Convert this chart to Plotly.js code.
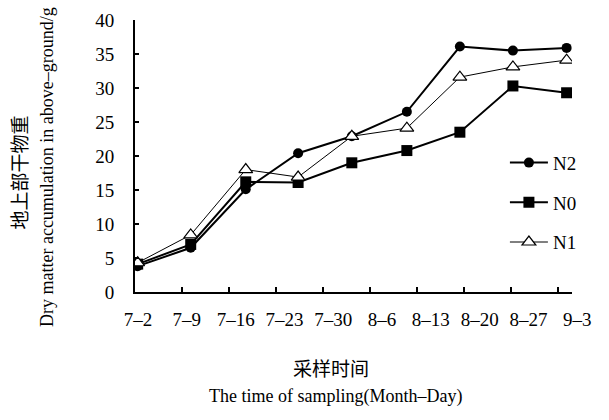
<!DOCTYPE html>
<html>
<head>
<meta charset="utf-8">
<script src="https://cdn.plot.ly/plotly-3.0.1.min.js"></script>
<style>html,body{margin:0;padding:0;background:#fff;}#chart{width:609px;height:420px;}</style>
</head>
<body>
<div id="chart"></div>
<script>
// Sampling positions (days after 7-2, as placed on the chart)
const sampleDays = [0.4, 8.3, 16.5, 24.3, 32.3, 40.5, 48.4, 56.3, 64.3];
const n2 = [3.8, 6.5, 15.1, 20.4, 22.9, 26.5, 36.1, 35.5, 35.9];
const n0 = [4.1, 7.0, 16.2, 16.1, 19.0, 20.8, 23.5, 30.3, 29.3];
const n1 = [4.3, 8.4, 18.0, 16.9, 22.9, 24.1, 31.6, 33.1, 34.1];
const tickDays = [0, 7, 14, 21, 28, 35, 42, 49, 56, 63];
const tickLabels = ["7\u20132", "7\u20139", "7\u201316", "7\u201323", "7\u201330", "8\u20136", "8\u201313", "8\u201320", "8\u201327", "9\u20133"];
const labelIndex = [0, 1, 2, 3, 4, 5, 6, 7, 8, 9];

const serif = "Liberation Serif, Times New Roman, serif";
const cjk = "Noto Sans CJK SC, sans-serif";

const traces = [
  // carrier for the category label axis (draws nothing)
  {x: labelIndex, y: labelIndex.map(() => null), xaxis: "x2", yaxis: "y", type: "scatter", mode: "lines",
   showlegend: false, hoverinfo: "skip"},
  {x: sampleDays, y: n2, name: "N2", type: "scatter", mode: "lines+markers", legendgroup: "a",
   line: {color: "#000", width: 2}, marker: {symbol: "circle", size: 10, color: "#000"}},
  {x: sampleDays, y: n0, name: "N0", type: "scatter", mode: "lines+markers", legendgroup: "b",
   line: {color: "#000", width: 2}, marker: {symbol: "square", size: 11, color: "#000"}},
  {x: sampleDays, y: n1, name: "N1", type: "scatter", mode: "lines+markers", legendgroup: "c",
   line: {color: "#000", width: 1}, marker: {symbol: "triangle-up", size: 12, color: "#fff", line: {color: "#000", width: 1.2}}}
];

const layout = {
  width: 609, height: 420,
  margin: {l: 135, r: 19, t: 20, b: 128},
  paper_bgcolor: "#fff", plot_bgcolor: "rgba(0,0,0,0)",
  font: {family: serif, color: "#000", size: 19},
  showlegend: true,
  legend: {x: 0.813, y: 0.545, xanchor: "left", yanchor: "top", traceorder: "grouped", tracegroupgap: 12,
           itemwidth: 38, font: {family: serif, size: 19, color: "#000"}, bgcolor: "rgba(0,0,0,0)"},
  xaxis: {domain: [0, 0.9604], range: [0, 65.1], tickvals: tickDays, showticklabels: false,
          ticks: "inside", ticklen: 5, tickwidth: 1.5, tickcolor: "#000",
          showline: true, linecolor: "#000", linewidth: 2, showgrid: false, zeroline: false},
  xaxis2: {domain: [0, 1], anchor: "y", range: [-0.0615, 9.26], tickvals: labelIndex, ticktext: tickLabels,
           ticks: "", showline: false, showgrid: false, zeroline: false, ticklabelstandoff: 14,
           tickfont: {family: serif, size: 19, color: "#000"}},
  yaxis: {range: [0, 40], dtick: 5, ticks: "inside", ticklen: 4, tickwidth: 1.5, tickcolor: "#000",
          showline: true, linecolor: "#000", linewidth: 2, showgrid: false, zeroline: false,
          ticklabelstandoff: 15, tickfont: {family: serif, size: 19, color: "#000"}},
  annotations: [
    {text: "采样时间", xref: "paper", yref: "paper", x: 0.431, y: -0.276, xanchor: "center", yanchor: "middle", showarrow: false,
     font: {family: cjk, size: 19, color: "#000"}},
    {text: "The time of sampling(Month\u2013Day)", xref: "paper", yref: "paper", x: 0.44, y: -0.386, xanchor: "center", yanchor: "middle", showarrow: false,
     font: {family: serif, size: 18, color: "#000"}},
    {text: "地上部干物重", xref: "paper", yref: "paper", x: -0.257, y: 0.44, xanchor: "center", yanchor: "middle", textangle: -90, showarrow: false,
     font: {family: cjk, size: 19, color: "#000"}},
    {text: "Dry matter accumulation in above\u2013ground/g", xref: "paper", yref: "paper", x: -0.193, y: 0.46, xanchor: "center", yanchor: "middle", textangle: -90, showarrow: false,
     font: {family: serif, size: 18, color: "#000"}}
  ]
};

Plotly.newPlot("chart", traces, layout, {displayModeBar: false, staticPlot: true});
</script>
</body>
</html>
